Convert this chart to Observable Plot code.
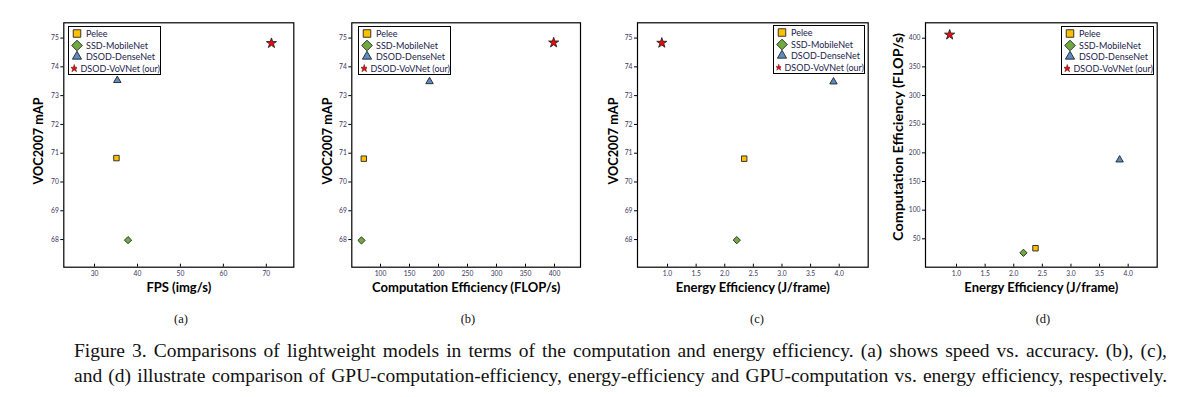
<!DOCTYPE html>
<html>
<head>
<meta charset="utf-8">
<script src="https://cdn.jsdelivr.net/npm/d3@7"></script>
<script src="https://cdn.jsdelivr.net/npm/@observablehq/plot@0.6"></script>
<style>
  body { margin: 0; background: white; }
  #root { position: relative; width: 1191px; height: 397px; background: white; overflow: hidden; }
  .panel { position: absolute; top: 0; }
  .legend { position: absolute; border: 1.3px solid #000; background: white; font-family: Lato, sans-serif; font-size: 9px; color: #1b1b4b; box-sizing: border-box; padding: 1px 0 0 2px; }
  .legend .row { display: flex; align-items: center; height: 11.6px; white-space: nowrap; }
  .legend svg { margin-right: 3px; }
  .sub { position: absolute; top: 312px; font-family: "Liberation Serif", serif; font-size: 12.5px; color: #111; transform: translateX(-50%); }
  .cap { position: absolute; left: 74px; width: 1093px; font-family: "Liberation Serif", serif; font-size: 19.5px; line-height: 22px; color: #111; white-space: normal; text-align: justify; text-align-last: justify; }
</style>
</head>
<body>
<div id="root"></div>
<script>
// ---- data ----
const models = ["Pelee", "SSD-MobileNet", "DSOD-DenseNet", "DSOD-VoVNet (our)"];
const symbols = ["square", "diamond2", "triangle", "star"];
const colors = ["#FFC000", "#70A940", "#5A8CC6", "#FF0000"];

// (a) FPS vs mAP
const fpsA = [35.1, 37.8, 35.3, 71.2];
const mapA = [70.83, 67.98, 73.53, 74.82];
// (b) computation efficiency vs mAP
const compB = [71.2, 67.2, 184.5, 398.5];
const mapB = [70.81, 67.97, 73.49, 74.84];
// (c) energy efficiency vs mAP
const energyC = [2.34, 2.21, 3.9, 0.9];
const mapC = [70.81, 67.98, 73.48, 74.83];
// (d) energy efficiency vs computation efficiency
const energyD = [2.38, 2.17, 3.85, 0.88];
const compD = [33.6, 25.6, 187.8, 406];

const mapTicks = [68, 69, 70, 71, 72, 73, 74, 75];
const fpsTicks = [30, 40, 50, 60, 70];
const compTicks = [100, 150, 200, 250, 300, 350, 400];
const energyTicks = [1.0, 1.5, 2.0, 2.5, 3.0, 3.5, 4.0];
const compTicksY = [50, 100, 150, 200, 250, 300, 350, 400];
const subLabels = ["(a)", "(b)", "(c)", "(d)"];
const captionLines = [
  "Figure 3.  Comparisons of lightweight models in terms of the computation and energy efficiency.  (a) shows speed vs.  accuracy.  (b), (c),",
  "and (d) illustrate comparison of GPU-computation-efficiency, energy-efficiency and GPU-computation vs. energy efficiency, respectively."
];

const root = document.getElementById("root");
const symbolR = {square: 4.6, diamond2: 5.2, triangle: 3.7, star: 4.9};

function rows(xs, ys) {
  return models.map((m, i) => ({model: m, x: xs[i], y: ys[i]}));
}

function panel(o) {
  const data = rows(o.xs, o.ys);
  const tickFill = "#3b3560";
  const chart = Plot.plot({
    width: o.width,
    height: 305,
    marginTop: 22.3,
    marginBottom: 38.3,
    marginLeft: o.ml,
    marginRight: o.mr,
    style: {background: "white", fontFamily: "Lato, sans-serif", fontSize: "6.7px", color: tickFill},
    x: {domain: o.xDomain},
    y: {domain: o.yDomain},
    symbol: {domain: models, range: symbols},
    color: {domain: models, range: colors},
    marks: [
      Plot.frame({stroke: "#000", strokeWidth: 1.2}),
      Plot.axisX({ticks: o.xTicks, tickFormat: o.xFmt, tickSize: -3, tickPadding: 7, label: null, fill: tickFill, stroke: "#000"}),
      Plot.axisY({ticks: o.yTicks, tickSize: 3, tickPadding: 2, label: null, fill: tickFill, stroke: "#000"}),
      Plot.dot(data, {x: "x", y: "y", symbol: "model", fill: "model", stroke: "#222", strokeWidth: 0.9,
        r: d => symbolR[symbols[models.indexOf(d.model)]]}),
      Plot.text([o.xLabel], {frameAnchor: "bottom", dy: 25, textAnchor: "middle", fontSize: 13, fontWeight: "bold", fill: "#000"}),
      Plot.text([o.yLabel], {frameAnchor: "left", textAnchor: "middle", dx: -o.yOff, dy: o.yShift || -4, rotate: -90, fontSize: 12.3, fontWeight: "bold", fill: "#000", className: "ylab"})
    ]
  });
  // fit the rotated label to the width it has in the reference
  chart.querySelectorAll(".ylab text").forEach(t => {
    t.setAttribute("textLength", o.yLen);
    t.setAttribute("lengthAdjust", "spacingAndGlyphs");
  });
  const div = document.createElement("div");
  div.className = "panel";
  div.style.left = o.left + "px";
  div.appendChild(chart);
  root.appendChild(div);

  // legend (HTML)
  const lg = document.createElement("div");
  lg.className = "legend";
  lg.style.left = o.lg[0] + "px";
  lg.style.top = o.lg[1] + "px";
  lg.style.width = o.lg[2] + "px";
  lg.style.height = o.lg[3] + "px";
  models.forEach((m, i) => {
    const row = document.createElement("div");
    row.className = "row";
    const s = d3.create("svg").attr("width", 12).attr("height", 11).attr("viewBox", "-6 -5.5 12 11");
    const typ = {square: d3.symbolSquare, diamond2: d3.symbolDiamond2, triangle: d3.symbolTriangle, star: d3.symbolStar}[symbols[i]];
    const r = symbolR[symbols[i]] * 0.92;
    s.append("path").attr("d", d3.symbol(typ, Math.PI * r * r)()).attr("fill", colors[i]).attr("stroke", "#222").attr("stroke-width", 0.9);
    row.appendChild(s.node());
    const t = document.createElement("span");
    t.textContent = m;
    row.appendChild(t);
    lg.appendChild(row);
  });
  root.appendChild(lg);
}

const f1 = d3.format(".1f");
panel({left: 0, width: 300, ml: 63.3, mr: 6.7, xs: fpsA, ys: mapA, xDomain: [22.84, 76.4], yDomain: [67.04, 75.53],
  xTicks: fpsTicks, yTicks: mapTicks, xFmt: d => d, xLabel: "FPS (img/s)", yLabel: "VOC2007 mAP", yOff: 25, yLen: 87, lg: [68, 26, 93, 49]});
panel({left: 295, width: 295, ml: 56.3, mr: 10, xs: compB, ys: mapB, xDomain: [50.5, 444.8], yDomain: [67.04, 75.53],
  xTicks: compTicks, yTicks: mapTicks, xFmt: d => d, xLabel: "Computation Efficiency (FLOP/s)", yLabel: "VOC2007 mAP", yOff: 24, yLen: 87, lg: [358, 26, 93, 49]});
panel({left: 590, width: 285, ml: 47, mr: 7.3, xs: energyC, ys: mapC, xDomain: [0.475, 4.507], yDomain: [67.04, 75.53],
  xTicks: energyTicks, yTicks: mapTicks, xFmt: f1, xLabel: "Energy Efficiency (J/frame)", yLabel: "VOC2007 mAP", yOff: 23, yLen: 87, lg: [773, 25, 92, 49]});
panel({left: 875, width: 295, ml: 50, mr: 13.3, xs: energyD, ys: compD, xDomain: [0.458, 4.507], yDomain: [0.5, 426.9],
  xTicks: energyTicks, yTicks: compTicksY, xFmt: f1, xLabel: "Energy Efficiency (J/frame)", yLabel: "Computation Efficiency (FLOP/s)", yOff: 26, yShift: -8, yLen: 208, lg: [1061, 26, 93, 49]});

const subX = [181, 468, 757, 1043];
subLabels.forEach((s, i) => {
  const d = document.createElement("div");
  d.className = "sub";
  d.style.left = subX[i] + "px";
  d.textContent = s;
  root.appendChild(d);
});
captionLines.forEach((line, i) => {
  const d = document.createElement("div");
  d.className = "cap";
  d.style.top = (340 + i * 25) + "px";
  d.textContent = line;
  root.appendChild(d);
});
</script>
</body>
</html>
